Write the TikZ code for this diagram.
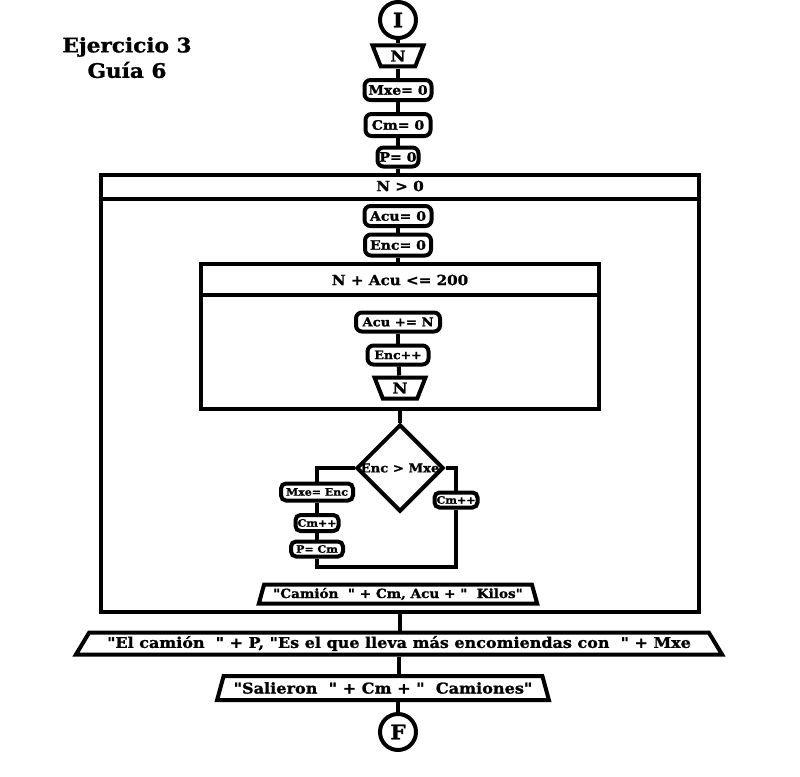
\documentclass[tikz,border=0pt]{standalone}
\usepackage{fontspec}
\newfontfamily\djs{DejaVu Serif}[FakeStretch=1.08, BoldFeatures={FakeBold=1.2}]
\usetikzlibrary{shapes.geometric}
\tikzset{
  ln/.style={line width=4pt},
  fs/.style={font=\djs\bfseries\fontsize{#1}{#1}\selectfont},
  rbox/.style={draw, ln, rounded corners=6pt, inner sep=0pt, fs=13},
  sbox/.style={draw, ln, rounded corners=5pt, inner sep=0pt, fs=10.2},
  term/.style={draw, ln, circle, inner sep=0pt, minimum size=36pt, fs=20},
  minp/.style={draw, ln, trapezium, shape border rotate=180, trapezium angle=72,
    trapezium stretches=true, minimum width=51pt, minimum height=21pt, inner sep=0pt, fs=15},
  outp/.style={draw, ln, trapezium, trapezium stretches=true, inner sep=0pt},
  frame/.style={draw, ln, inner sep=0pt},
  hdr/.style={fs=14},
  ttl/.style={fs=20}
}
\begin{document}
\begin{tikzpicture}[x=1pt,y=-1pt]
\useasboundingbox (0,0) rectangle (800,776);
% title
\node[ttl] (t1) at (127,47) {Ejercicio 3};
\node[ttl] (t2) at (127,70) {Guía 6};
% top sequence
\node[term] (I) at (398,20) {I};
\node[minp] (N1) at (398,56) {N};
\node[rbox, minimum width=67pt, minimum height=20pt] (mxe0) at (398,90) {Mxe= 0};
\node[rbox, minimum width=65pt, minimum height=22pt] (cm0) at (398,125) {Cm= 0};
\node[rbox, minimum width=41pt, minimum height=19pt] (p0) at (398,157) {P= 0};
% outer loop
\node[frame, minimum width=598pt, minimum height=437pt] (loop) at (400,393.5) {};
\coordinate (h1) at (400,199);
\draw[ln] (loop.west |- h1) -- (loop.east |- h1);
\node[hdr] (c1) at (400,186) {N > 0};
\node[rbox, minimum width=67pt, minimum height=20pt] (acu0) at (398,216) {Acu= 0};
\node[rbox, minimum width=66pt, minimum height=21pt] (enc0) at (398,245) {Enc= 0};
% inner loop
\node[frame, minimum width=398pt, minimum height=145pt] (inner) at (400,336.5) {};
\coordinate (h2) at (400,295);
\draw[ln] (inner.west |- h2) -- (inner.east |- h2);
\node[hdr] (c2) at (400,280) {N + Acu <= 200};
\node[rbox, fs=12.2, minimum width=84pt, minimum height=19pt] (acuN) at (398,322) {Acu += N};
\node[rbox, fs=11.6, minimum width=61pt, minimum height=19pt] (encpp) at (398,355) {Enc++};
\node[minp] (N2) at (400,388) {N};
% decision
\node[draw, ln, diamond, minimum width=87pt, minimum height=87pt, inner sep=0pt] (dec) at (400,468) {};
\node[fs=12.2] (decl) at (400,468) {Enc > Mxe};
\node[sbox, minimum width=72pt, minimum height=17pt] (mxeEnc) at (317,492) {Mxe= Enc};
\node[sbox, minimum width=43pt, minimum height=16pt] (cmpp1) at (317,523) {Cm++};
\node[sbox, minimum width=52pt, minimum height=15pt] (pcm) at (317,549) {P= Cm};
\node[sbox, minimum width=43pt, minimum height=15pt] (cmpp2) at (456,500) {Cm++};
\coordinate (jy) at (0,567);
% outputs
\node[outp, fs=12.6, trapezium angle=68, minimum width=279pt, minimum height=19pt] (camion) at (398,594) {"Camión\ \ " + Cm, Acu + "\ \ Kilos"};
\node[outp, fs=14.8, trapezium angle=50, minimum width=650pt, minimum height=22pt] (elcam) at (399,643.5) {"El camión\ \ " + P, "Es el que lleva más encomiendas con\ \ " + Mxe};
\node[outp, fs=14.9, trapezium angle=62, minimum width=333pt, minimum height=24pt] (sal) at (383,688) {"Salieron\ \ " + Cm + "\ \ Camiones"};
\node[term] (F) at (398,732) {F};
% connectors
\draw[ln] (I) -- (N1);
\draw[ln] (N1) -- (mxe0);
\draw[ln] (mxe0) -- (cm0);
\draw[ln] (cm0) -- (p0);
\draw[ln] (p0) -- (p0 |- loop.north);
\draw[ln] (acu0) -- (enc0);
\draw[ln] (enc0) -- (enc0 |- inner.north);
\draw[ln] (acuN) -- (encpp);
\draw[ln] (encpp) -- (N2);
\draw[ln] (inner.south) -- (dec.north);
\draw[ln] (dec.west) -| (mxeEnc.north);
\draw[ln] (mxeEnc) -- (cmpp1);
\draw[ln] (cmpp1) -- (pcm);
\draw[ln] (pcm.south) |- (cmpp2.south |- jy) -- (cmpp2.south);
\draw[ln] (dec.east) -| (cmpp2.north);
\draw[ln] (loop.south) -- (loop.south |- elcam.north);
\draw[ln] (elcam.south) -- (elcam.south |- sal.north);
\draw[ln] (F.north |- sal.south) -- (F);
\end{tikzpicture}
\end{document}
